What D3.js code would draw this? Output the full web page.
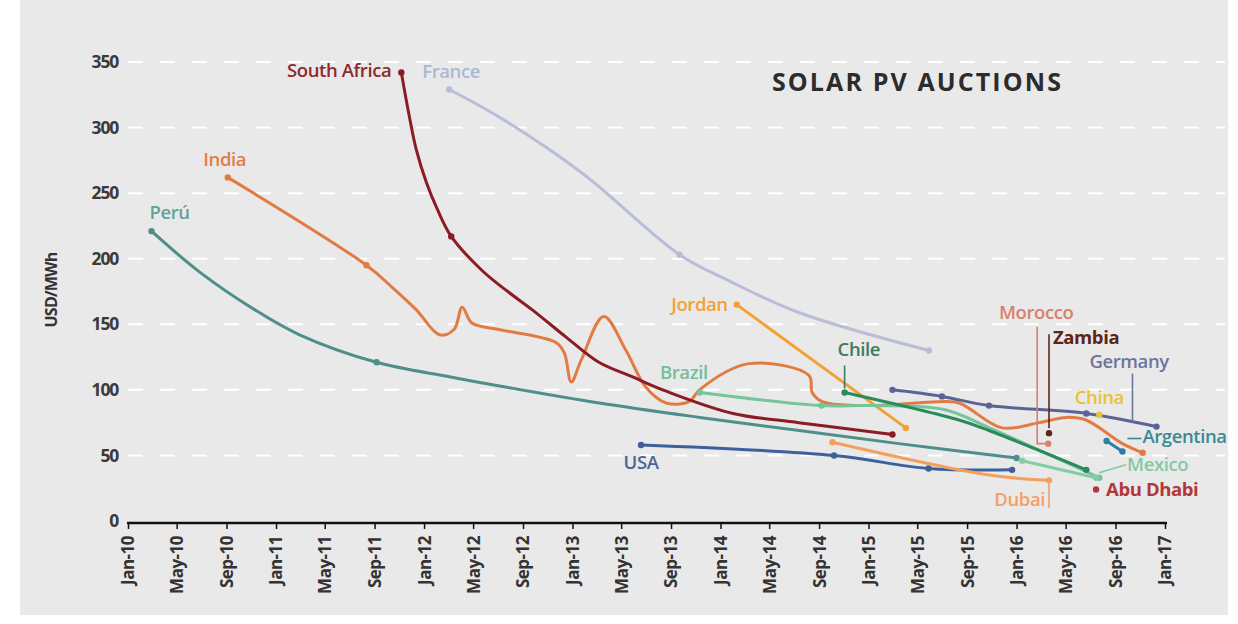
<!DOCTYPE html>
<html><head><meta charset="utf-8">
<script src="https://cdn.jsdelivr.net/npm/d3@7"></script>
<style>
body{margin:0;background:#fff}
svg{display:block}
text{font-family:"Open Sans",sans-serif}
</style>
</head><body>
<svg id="c" width="1238" height="624"></svg>
<script>
// ---------- DATA ----------
const tickDates = ["2010-01-01","2010-05-01","2010-09-01","2011-01-01","2011-05-01","2011-09-01","2012-01-01","2012-05-01","2012-09-01","2013-01-01","2013-05-01","2013-09-01","2014-01-01","2014-05-01","2014-09-01","2015-01-01","2015-05-01","2015-09-01","2016-01-01","2016-05-01","2016-09-01","2017-01-01"];
const tickLabels = ["Jan-10","May-10","Sep-10","Jan-11","May-11","Sep-11","Jan-12","May-12","Sep-12","Jan-13","May-13","Sep-13","Jan-14","May-14","Sep-14","Jan-15","May-15","Sep-15","Jan-16","May-16","Sep-16","Jan-17"];
const yTicks = [0,50,100,150,200,250,300,350];

// [date, USD/MWh, marker]
const peru = [["2010-02-28",221,1],["2010-06-26",190,0],["2010-11-10",161,0],["2011-02-28",142,0],["2011-09-06",121,1],["2012-03-03",110,0],["2012-07-05",103,0],["2013-03-08",90,0],["2013-11-11",79,0],["2014-07-14",69,0],["2015-03-17",59,0],["2016-01-01",48,1]];
const india = [["2010-09-04",262,1],["2011-08-12",195,1],["2011-10-15",178,0],["2011-12-13",161,0],["2012-02-08",142,0],["2012-03-15",146,0],["2012-04-04",163,0],["2012-04-28",151,0],["2012-07-04",146,0],["2012-11-22",136,0],["2012-12-12",128,0],["2012-12-29",106,0],["2013-01-23",123,0],["2013-03-19",156,0],["2013-05-13",130,0],["2013-07-01",102,0],["2013-08-20",90,0],["2013-10-16",91,0],["2013-11-10",100,0],["2014-03-12",120,0],["2014-08-07",111,0],["2014-08-15",98,0],["2014-09-09",91,0],["2015-01-03",88,0],["2015-06-23",91,0],["2015-08-12",90,0],["2015-11-26",71,0],["2016-02-26",75,0],["2016-05-02",79,0],["2016-06-20",77,0],["2016-09-18",59,0],["2016-11-07",52,1]];
const southAfrica = [["2011-11-06",342,1],["2011-11-26",308,0],["2011-12-13",283,0],["2012-01-07",258,0],["2012-02-01",239,0],["2012-03-08",217,1],["2012-05-23",191,0],["2012-07-21",176,0],["2012-09-24",161,0],["2012-12-17",140,0],["2013-03-07",121,0],["2013-05-28",110,0],["2013-08-20",99,0],["2014-02-01",82,0],["2014-07-13",75,0],["2015-03-01",66,1]];
const france = [["2012-03-03",329,1],["2012-07-04",308,0],["2013-01-26",265,0],["2013-09-22",203,1],["2014-01-16",184,0],["2014-07-13",159,0],["2015-05-30",130,1]];
const jordan = [["2014-02-10",165,1],["2015-04-03",71,1]];
const brazil = [["2013-11-11",98,1],["2014-09-07",88,1],["2015-01-04",88,0],["2015-07-06",85,0],["2015-10-26",71,0],["2016-07-23",33,1]];
const chile = [["2014-11-03",98,1],["2015-08-12",77,0],["2015-10-25",69,0],["2016-06-21",39,1]];
const usa = [["2013-06-19",58,1],["2014-10-08",50,1],["2015-05-29",40,1],["2015-12-21",39,1]];
const dubai = [["2014-10-04",60,1],["2015-10-25",35,0],["2016-03-21",31,1]];
const germany = [["2015-03-01",100,1],["2015-07-01",95,1],["2015-10-25",88,1],["2016-06-21",82,1],["2016-12-11",72,1]];
const china = [["2016-07-23",81,1]];
const morocco = [["2016-03-19",59,1]];
const zambia = [["2016-03-21",67,1]];
const argentina = [["2016-08-10",61,1],["2016-09-18",53,1]];
const mexico = [["2016-01-15",46,1],["2016-07-15",33,1]];
const abuDhabi = [["2016-07-15",24,1]];

// ---------- STYLE / CONFIG ----------
const series = [
  {name:"Perú", data:peru, color:"#4e8f8a", lc:"#62a19c", lp:0, dx:-2, dy:-12, anchor:"start"},
  {name:"India", data:india, color:"#e27b43", lc:"#e27d48", lp:0, dx:-3, dy:-11, anchor:"middle"},
  {name:"France", data:france, color:"#b8bdd8", lc:"#a9b8d6", lp:0, dx:-27, dy:-12, anchor:"start"},
  {name:"Jordan", data:jordan, color:"#f3a133", lc:"#f1a236", lp:0, dx:-9, dy:6, anchor:"end"},
  {name:"Brazil", data:brazil, color:"#74c59c", lc:"#70c09a", lp:0, dx:-16, dy:-13, anchor:"middle"},
  {name:"USA", data:usa, color:"#3d5f9b", lc:"#4a6694", lp:0, dx:0, dy:24, anchor:"middle"},
  {name:"Dubai", data:dubai, color:"#f3a05c", lc:"#f2a066", lp:2, dx:-4, dy:26, anchor:"end", conn:[[0,3],[0,28]]},
  {name:"South Africa", data:southAfrica, color:"#8c1c24", lc:"#8c2a2e", lp:0, dx:-10, dy:5, anchor:"end"},
  {name:"Chile", data:chile, color:"#2a8a5c", lc:"#3e7a5e", lp:0, dx:-7, dy:-36, anchor:"start", conn:[[0,-27],[0,-4]]},
  {name:"Germany", data:germany, color:"#5b6396", lc:"#6d759c", lp:4, dx:-67, dy:-59, anchor:"start", conn:[[-24,-53],[-24,-4]]},
  {name:"Mexico", data:mexico, color:"#85cca5", lc:"#85c9a2", lp:1, dx:31, dy:-7, anchor:"start", conn:[[3,-5],[30,-13]]},
  {name:"Argentina", data:argentina, color:"#2c7fa8", lc:"#3a8a95", lp:1, dx:20, dy:-8, anchor:"start", conn:[[5,-13],[19,-13]]},
  {name:"China", data:china, color:"#e8c236", lc:"#e8c236", lp:0, dx:0, dy:-11, anchor:"middle"},
  {name:"Morocco", data:morocco, color:"#d8806e", lc:"#d8806e", lp:0, dx:-12, dy:-125, anchor:"middle", conn:[[-11,-117],[-11,0],[-3,0]]},
  {name:"Zambia", data:zambia, color:"#5e2418", lc:"#5e2418", lp:0, dx:4, dy:-89, anchor:"start", bold:true, conn:[[0,-99],[0,-5]]},
  {name:"Abu Dhabi", data:abuDhabi, color:"#b2373a", lc:"#b2373a", lp:0, dx:10, dy:6, anchor:"start", bold:true}
];

// ---------- CHART ----------
const svg = d3.select("#c");
const parse = d3.timeParse("%Y-%m-%d");
const x = d3.scaleTime().domain([parse("2010-01-01"), parse("2017-01-01")]).range([128,1165]);
const y = d3.scaleLinear().domain([0,350]).range([521,62]);

svg.append("rect").attr("x",20).attr("y",0).attr("width",1208).attr("height",615).attr("fill","#eae9e9");

// gridlines
svg.append("g").selectAll("line").data(yTicks.filter(d=>d>0)).join("line")
  .attr("x1",128).attr("x2",1225).attr("y1",d=>y(d)).attr("y2",d=>y(d))
  .attr("stroke","#ffffff").attr("stroke-width",2).attr("stroke-dasharray","15,17");

// y axis labels
const yAxis = d3.axisLeft(y).tickValues(yTicks).tickSize(0).tickPadding(0).tickFormat(d3.format("d"));
const gy = svg.append("g").attr("transform","translate(118,0)").call(yAxis);
gy.select(".domain").remove();
gy.selectAll("text").attr("font-size",17.5).attr("font-weight",700).attr("fill","#3a3a3a").attr("letter-spacing","-1.2").style("font-family","'Open Sans',sans-serif");

svg.append("text").attr("transform","translate(57,290) rotate(-90)").attr("text-anchor","middle")
  .attr("font-size",16).attr("font-weight",700).attr("fill","#333").attr("letter-spacing","-0.8").text("USD/MWh");

// x axis
const xAxis = d3.axisBottom(x).tickValues(tickDates.map(parse)).tickSize(6).tickPadding(8)
  .tickFormat((d,i)=>tickLabels[i]);
const gx = svg.append("g").attr("transform","translate(0,523)").call(xAxis);
gx.select(".domain").attr("stroke","#111").attr("stroke-width",2.5).attr("d","M127,0H1167");
gx.selectAll(".tick line").attr("stroke","#111").attr("stroke-width",1.5);
gx.selectAll(".tick text").attr("transform","rotate(-90)").attr("text-anchor","end")
  .attr("x",-13).attr("y",0).attr("dy","0.35em")
  .attr("font-size",17).attr("font-weight",700).attr("fill","#333").attr("letter-spacing","-0.5")
  .style("font-family","'Open Sans',sans-serif");

// title
svg.append("text").attr("x",772).attr("y",91).attr("font-size",25).attr("font-weight",700)
  .attr("fill","#2c2c2c").attr("letter-spacing","2.1").text("SOLAR PV AUCTIONS");

// lines
const line = d3.line().x(d=>x(parse(d[0]))).y(d=>y(d[1])).curve(d3.curveCatmullRom.alpha(0.5));
const gl = svg.append("g");
series.forEach(s=>{
  if (s.data.length>1) {
    gl.append("path").datum(s.data).attr("d",line).attr("fill","none")
      .attr("stroke",s.color).attr("stroke-width",3).attr("stroke-linejoin","round").attr("stroke-linecap","round");
  }
  gl.append("g").selectAll("circle").data(s.data.filter(d=>d[2])).join("circle")
    .attr("cx",d=>x(parse(d[0]))).attr("cy",d=>y(d[1])).attr("r",3.2).attr("fill",s.color);
});

// labels & connectors
const gt = svg.append("g");
series.forEach(s=>{
  const p = s.data[s.lp];
  const px = x(parse(p[0])), py = y(p[1]);
  if (s.conn) {
    gt.append("polyline").attr("points", s.conn.map(c=>[px+c[0],py+c[1]].join(",")).join(" "))
      .attr("fill","none").attr("stroke",s.lc).attr("stroke-width",1.6);
  }
  gt.append("text").attr("x",px+s.dx).attr("y",py+s.dy).attr("text-anchor",s.anchor)
    .attr("font-size",18.5).attr("font-weight",s.bold?700:600).attr("fill",s.lc)
    .attr("letter-spacing","-0.4").text(s.name);
});
</script>
</body></html>
